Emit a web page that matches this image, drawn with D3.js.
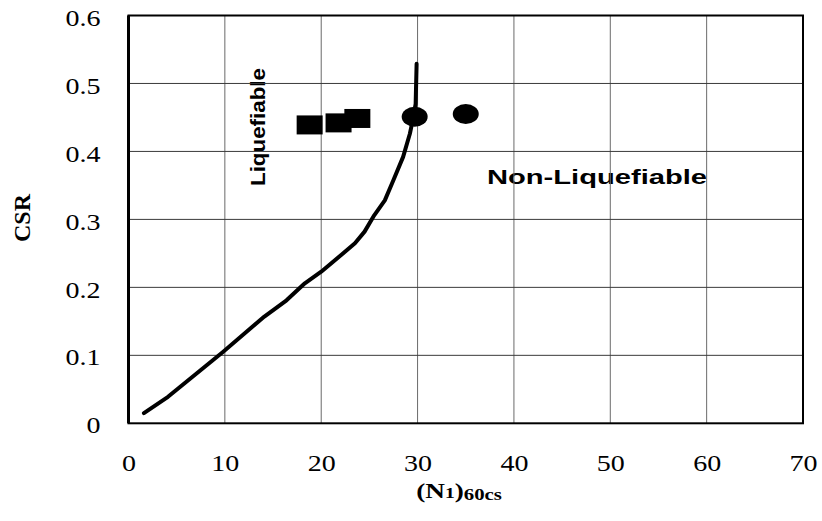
<!DOCTYPE html>
<html>
<head>
<meta charset="utf-8">
<script src="https://cdn.jsdelivr.net/npm/d3@7"></script>
<style>
  body { margin: 0; background: #fff; }
  svg { display: block; }
</style>
</head>
<body>
<div id="chart"></div>
<script>
// boundary curve (N1)60cs vs CSR
const curveX = [1.6, 4.1, 9.8, 14.1, 16.4, 18.3, 20.0, 22.1, 23.5, 24.5, 25.5, 26.6, 27.5, 28.5, 29.2, 29.5, 29.8, 29.9];
const curveY = [0.015, 0.039, 0.105, 0.157, 0.181, 0.206, 0.223, 0.248, 0.265, 0.282, 0.306, 0.328, 0.358, 0.392, 0.426, 0.446, 0.47, 0.529];

// liquefied sites (squares) and non-liquefied sites (circles)
const squareX = [18.8, 21.8, 23.75];
const squareY = [0.439, 0.442, 0.4485];
const circleX = [29.7, 35.0];
const circleY = [0.451, 0.455];

const xTicks = [0, 10, 20, 30, 40, 50, 60, 70];
const yTicks = [0, 0.1, 0.2, 0.3, 0.4, 0.5, 0.6];

const W = 822, H = 521;
const margin = { top: 15.5, right: 19, bottom: 97.7, left: 128.5 };
const width = W - margin.left - margin.right,
  height = H - margin.top - margin.bottom;

const svg = d3.select("#chart").append("svg")
  .attr("width", W)
  .attr("height", H);

const g = svg.append("g")
  .attr("transform", "translate(" + margin.left + "," + margin.top + ")");

const x = d3.scaleLinear().domain([0, 70]).range([0, width]);
const y = d3.scaleLinear().domain([0, 0.6]).range([height, 0]);

const serif = "'Liberation Serif', 'Times New Roman', serif";
const sans = "'Liberation Sans', Arial, sans-serif";

// region labels (under the grid)
g.append("text")
  .attr("x", 487 - margin.left)
  .attr("y", 184 - margin.top)
  .attr("font-family", sans)
  .attr("font-weight", "bold")
  .attr("font-size", 20)
  .attr("textLength", 220)
  .attr("lengthAdjust", "spacingAndGlyphs")
  .text("Non-Liquefiable");

g.append("text")
  .attr("transform", "translate(" + (265 - margin.left) + "," + (127 - margin.top) + ") rotate(-90)")
  .attr("text-anchor", "middle")
  .attr("font-family", sans)
  .attr("font-weight", "bold")
  .attr("font-size", 20)
  .attr("textLength", 118)
  .attr("lengthAdjust", "spacingAndGlyphs")
  .text("Liquefiable");

// grid
g.append("g")
  .selectAll("line")
  .data(xTicks.slice(1, -1))
  .join("line")
  .attr("x1", d => x(d)).attr("x2", d => x(d))
  .attr("y1", 0).attr("y2", height)
  .attr("stroke", "#6a6a6a")
  .attr("stroke-width", 1);

g.append("g")
  .selectAll("line")
  .data(yTicks.slice(1, -1))
  .join("line")
  .attr("x1", 0).attr("x2", width)
  .attr("y1", d => y(d)).attr("y2", d => y(d))
  .attr("stroke", "#3a3a3a")
  .attr("stroke-width", 1);

// plot border
g.append("rect")
  .attr("width", width)
  .attr("height", height)
  .attr("fill", "none")
  .attr("stroke", "#000")
  .attr("stroke-width", 2);
g.append("line")
  .attr("x1", 0).attr("x2", 0)
  .attr("y1", 0).attr("y2", height)
  .attr("stroke", "#000")
  .attr("stroke-width", 3);

// axes (labels only)
const xAxis = g.append("g")
  .attr("transform", "translate(0," + height + ")")
  .call(d3.axisBottom(x).tickValues(xTicks).tickFormat(d3.format("d")).tickSize(0).tickPadding(0));
xAxis.select(".domain").remove();
xAxis.selectAll("text")
  .attr("y", 47.5)
  .attr("dy", 0)
  .attr("font-family", serif)
  .attr("font-size", 23)
  .attr("fill", "#000")
  .attr("transform", "scale(1.22,1)");

const yAxis = g.append("g")
  .call(d3.axisLeft(y).tickValues(yTicks).tickFormat(d => d === 0 ? "0" : d3.format(".1f")(d)).tickSize(0).tickPadding(0));
yAxis.select(".domain").remove();
yAxis.selectAll("text")
  .attr("x", -23)
  .attr("dy", "0.42em")
  .attr("font-family", serif)
  .attr("font-size", 23)
  .attr("fill", "#000")
  .attr("transform", "scale(1.22,1)");

// axis titles
svg.append("text")
  .attr("transform", "translate(30,218) rotate(-90)")
  .attr("text-anchor", "middle")
  .attr("font-family", serif)
  .attr("font-weight", "bold")
  .attr("font-size", 24)
  .text("CSR");

const xt = svg.append("text")
  .attr("transform", "translate(459,498) scale(1.3,1)")
  .attr("text-anchor", "middle")
  .attr("font-family", serif)
  .attr("font-weight", "bold");
xt.append("tspan").attr("font-size", 21).text("(N");
xt.append("tspan").attr("font-size", 15).text("1");
xt.append("tspan").attr("font-size", 21).text(")");
xt.append("tspan").attr("font-size", 16).attr("dy", 2).text("60cs");

// boundary curve
const pts = curveX.map((d, i) => [d, curveY[i]]);
g.append("path")
  .datum(pts)
  .attr("fill", "none")
  .attr("stroke", "#000")
  .attr("stroke-width", 4)
  .attr("stroke-linecap", "round")
  .attr("stroke-linejoin", "round")
  .attr("d", d3.line().x(d => x(d[0])).y(d => y(d[1])));

// markers
g.append("g")
  .selectAll("rect")
  .data(squareX.map((d, i) => [d, squareY[i]]))
  .join("rect")
  .attr("x", d => x(d[0]) - 13)
  .attr("y", d => y(d[1]) - 9.5)
  .attr("width", 26)
  .attr("height", 19)
  .attr("fill", "#000");

g.append("g")
  .selectAll("ellipse")
  .data(circleX.map((d, i) => [d, circleY[i]]))
  .join("ellipse")
  .attr("cx", d => x(d[0]))
  .attr("cy", d => y(d[1]))
  .attr("rx", 13)
  .attr("ry", 10)
  .attr("fill", "#000");
</script>
</body>
</html>
